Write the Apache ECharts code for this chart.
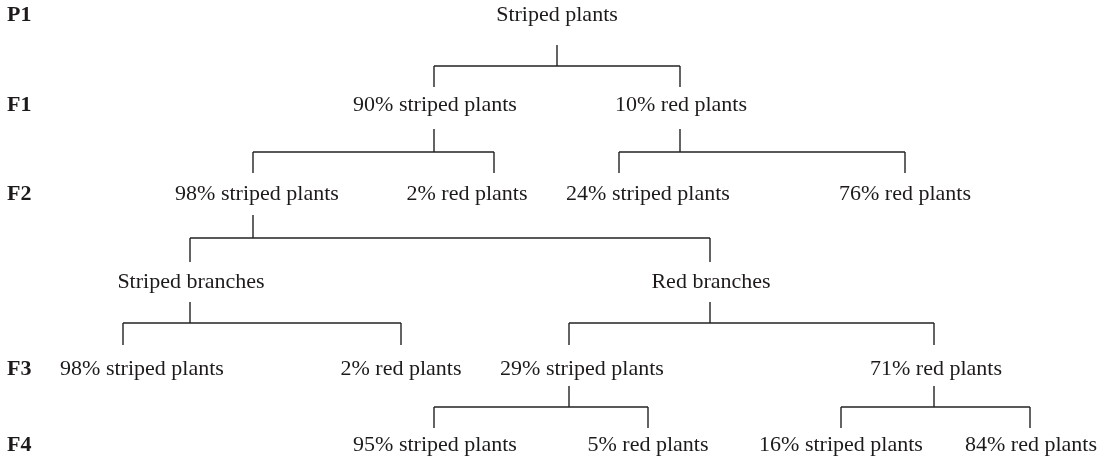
<!DOCTYPE html>
<html>
<head>
<meta charset="utf-8">
<script src="https://cdn.jsdelivr.net/npm/echarts@6/dist/echarts.min.js"></script>
<style>
  html, body { margin: 0; padding: 0; background: #ffffff; }
  #chart { width: 1110px; height: 458px; }
</style>
</head>
<body>
<div id="chart"></div>
<script>
// Generation row labels and their vertical position (axis units)
const rowLabels = ['P1', 'F1', 'F2', '', 'F3', 'F4'];
const rowY = [15, 105, 194, 282, 369, 445];

// Bracket geometry per generation step (axis units)
const stemTop = [45, 129, 215, 302, 386];   // where the stem below a parent row starts
const forkY = [66, 152, 238, 323, 407];     // horizontal fork line
const childTop = [null, 87, 173, 262, 345, 428]; // where child drops end, per child row

// Tree nodes
const nodeNames = [
  'Striped plants',
  '90% striped plants', '10% red plants',
  '98% striped plants', '2% red plants', '24% striped plants', '76% red plants',
  'Striped branches', 'Red branches',
  '98% striped plants', '2% red plants', '29% striped plants', '71% red plants',
  '95% striped plants', '5% red plants', '16% striped plants', '84% red plants'
];
const nodeRow = [0, 1, 1, 2, 2, 2, 2, 3, 3, 4, 4, 4, 4, 5, 5, 5, 5];
const nodeLabelX = [557, 435, 681, 257, 467, 648, 905, 191, 711, 142, 401, 582, 936, 435, 648, 841, 1031];
const nodeStemX = [557, 434, 680, 253, 494, 619, 905, 190, 710, 123, 401, 569, 934, 434, 648, 841, 1030];
const nodeParent = [-1, 0, 0, 1, 1, 2, 2, 3, 3, 7, 7, 8, 8, 11, 11, 12, 12];

const TEXT_COLOR = '#1e1a1b';
const LINE_COLOR = '#222222';
const FONT = '"Liberation Serif", "Times New Roman", serif';
const FONT_SIZE = 22;

const nodeData = nodeNames.map((n, i) => [nodeLabelX[i], rowY[nodeRow[i]], nodeStemX[i], i]);
const rowData = rowLabels.map((r, i) => [7, rowY[i], i]).filter(d => rowLabels[d[2]] !== '');

function renderNode(params, api) {
  const i = api.value(3);
  const row = nodeRow[i];
  const children = [];
  for (let k = 0; k < nodeParent.length; k++) if (nodeParent[k] === i) children.push(k);
  const els = [];
  const p = api.coord([api.value(0), api.value(1)]);
  els.push({
    type: 'text',
    style: {
      text: nodeNames[i], x: p[0], y: p[1],
      align: 'center', verticalAlign: 'middle',
      fontFamily: FONT, fontSize: FONT_SIZE, fill: TEXT_COLOR
    }
  });
  if (children.length) {
    const sx = api.value(2);
    const lineStyle = { stroke: LINE_COLOR, lineWidth: 1.4 };
    const a = api.coord([sx, stemTop[row]]);
    const b = api.coord([sx, forkY[row]]);
    els.push({ type: 'line', shape: { x1: a[0], y1: a[1], x2: b[0], y2: b[1] }, style: lineStyle });
    const xs = children.map(k => nodeStemX[k]);
    const l = api.coord([Math.min.apply(null, xs), forkY[row]]);
    const r = api.coord([Math.max.apply(null, xs), forkY[row]]);
    els.push({ type: 'line', shape: { x1: l[0], y1: l[1], x2: r[0], y2: r[1] }, style: lineStyle });
    children.forEach(k => {
      const t = api.coord([nodeStemX[k], forkY[row]]);
      const u = api.coord([nodeStemX[k], childTop[nodeRow[k]]]);
      els.push({ type: 'line', shape: { x1: t[0], y1: t[1], x2: u[0], y2: u[1] }, style: lineStyle });
    });
  }
  return { type: 'group', children: els };
}

function renderRow(params, api) {
  const p = api.coord([api.value(0), api.value(1)]);
  return {
    type: 'text',
    style: {
      text: rowLabels[api.value(2)], x: p[0], y: p[1],
      align: 'left', verticalAlign: 'middle',
      fontFamily: FONT, fontSize: FONT_SIZE, fontWeight: 'bold', fill: TEXT_COLOR
    }
  };
}

const chart = echarts.init(document.getElementById('chart'), null, { renderer: 'canvas' });
chart.setOption({
  animation: false,
  backgroundColor: '#ffffff',
  grid: { left: 0, right: 0, top: 0, bottom: 0 },
  xAxis: { type: 'value', min: 0, max: 1110, show: false },
  yAxis: { type: 'value', min: 0, max: 458, inverse: true, show: false },
  series: [
    {
      type: 'custom',
      coordinateSystem: 'cartesian2d',
      renderItem: renderNode,
      encode: { x: 0, y: 1 },
      data: nodeData,
      silent: true
    },
    {
      type: 'custom',
      coordinateSystem: 'cartesian2d',
      renderItem: renderRow,
      encode: { x: 0, y: 1 },
      data: rowData,
      silent: true
    }
  ]
});
</script>
</body>
</html>
